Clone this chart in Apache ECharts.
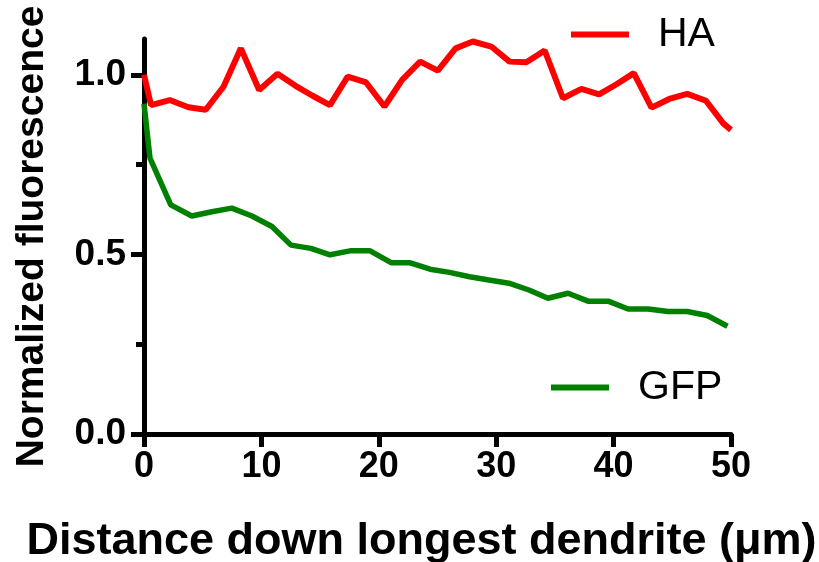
<!DOCTYPE html>
<html>
<head>
<meta charset="utf-8">
<script src="https://cdn.jsdelivr.net/npm/echarts@6/dist/echarts.min.js"></script>
<style>
  html, body { margin: 0; padding: 0; background: #fff; }
  #main { width: 819px; height: 562px; }
</style>
</head>
<body>
<div id="main"></div>
<script>
// distance along the dendrite (um) and normalized intensity
var haX = [0, 0.6, 2.19, 3.78, 5.26, 6.77, 8.25, 9.81, 11.37, 12.94, 14.36, 15.84, 17.35, 18.92, 20.48, 21.99, 23.52, 25.03, 26.54, 28.01, 29.58, 31.14, 32.57, 34.13, 35.69, 37.26, 38.76, 40.25, 41.72, 43.23, 44.74, 46.27, 47.87, 49.34, 50];
var haY = [1.0, 0.916, 0.93, 0.91, 0.903, 0.967, 1.074, 0.958, 1.003, 0.969, 0.942, 0.916, 0.995, 0.979, 0.912, 0.986, 1.037, 1.012, 1.074, 1.093, 1.079, 1.037, 1.035, 1.068, 0.935, 0.961, 0.946, 0.974, 1.005, 0.909, 0.933, 0.947, 0.928, 0.865, 0.847];

var gfpX = [0, 0.51, 2.28, 4.07, 5.78, 7.48, 9.19, 10.9, 12.52, 14.22, 15.84, 17.55, 19.26, 21.05, 22.61, 24.37, 26.02, 27.73, 29.38, 31.08, 32.79, 34.41, 36.12, 37.82, 39.53, 41.24, 42.94, 44.65, 46.27, 47.98, 49.7];
var gfpY = [0.92, 0.768, 0.638, 0.607, 0.619, 0.629, 0.607, 0.578, 0.526, 0.517, 0.499, 0.51, 0.51, 0.477, 0.477, 0.459, 0.45, 0.438, 0.429, 0.42, 0.401, 0.378, 0.392, 0.37, 0.37, 0.348, 0.348, 0.341, 0.341, 0.33, 0.3];

var xTicks = [0, 10, 20, 30, 40, 50];
var yTicks = [0, 0.5, 1.0];
var yMinorTicks = [0.25, 0.75];

function pairs(xs, ys) {
  return xs.map(function (x, i) { return [x, ys[i]]; });
}

var font = 'Liberation Sans, Arial, sans-serif';
var chart = echarts.init(document.getElementById('main'));

chart.setOption({
  animation: false,
  grid: { left: 144, right: 88, top: 39, bottom: 128, outerBoundsMode: 'none' },
  legend: [
    {
      data: ['HA'], left: 566, top: 9, icon: 'rect', itemWidth: 58, itemHeight: 6,
      textStyle: { fontSize: 41, fontFamily: font, color: '#000', padding: [0, 0, 0, 24] }
    },
    {
      data: ['GFP'], left: 546, top: 362, icon: 'rect', itemWidth: 58, itemHeight: 6,
      textStyle: { fontSize: 41, fontFamily: font, color: '#000', padding: [0, 0, 0, 24] }
    }
  ],
  xAxis: {
    type: 'value', min: 0, max: 50, interval: 10,
    name: 'Distance down longest dendrite (\u03bcm)',
    nameLocation: 'middle', nameGap: 85,
    nameTextStyle: { fontSize: 45, fontWeight: 'bold', fontFamily: font, color: '#000', padding: [0, 32, 0, 0] },
    axisLine: { lineStyle: { color: '#000', width: 5 } },
    axisTick: { length: 13, lineStyle: { color: '#000', width: 5 }, customValues: xTicks },
    axisLabel: { customValues: xTicks, fontSize: 36, fontWeight: 'bold', fontFamily: font, color: '#000', margin: 15 },
    splitLine: { show: false }
  },
  yAxis: [
    {
      type: 'value', min: 0, max: 1.1, position: 'left',
      name: 'Normalized fluorescence',
      nameLocation: 'middle', nameGap: 92,
      nameTextStyle: { fontSize: 39, fontWeight: 'bold', fontFamily: font, color: '#000' },
      axisLine: { show: true, lineStyle: { color: '#000', width: 5 } },
      axisTick: { show: true, length: 13, lineStyle: { color: '#000', width: 5 }, customValues: yTicks },
      axisLabel: {
        customValues: yTicks, fontSize: 37, fontWeight: 'bold', fontFamily: font, color: '#000', margin: 18,
        formatter: function (v) { return v.toFixed(1); }
      },
      splitLine: { show: false }
    },
    {
      // short minor ticks at 0.25 / 0.75
      type: 'value', min: 0, max: 1.1, position: 'left', offset: 0,
      axisLine: { show: false },
      axisTick: { show: true, length: 8, lineStyle: { color: '#000', width: 5 }, customValues: yMinorTicks },
      axisLabel: { show: false },
      splitLine: { show: false }
    }
  ],
  series: [
    {
      name: 'HA', type: 'line', data: pairs(haX, haY), showSymbol: false, color: '#ff0000',
      lineStyle: { width: 6, color: '#ff0000' }
    },
    {
      name: 'GFP', type: 'line', data: pairs(gfpX, gfpY), showSymbol: false, color: '#008000',
      lineStyle: { width: 5.5, color: '#008000' }
    }
  ]
});
</script>
</body>
</html>
